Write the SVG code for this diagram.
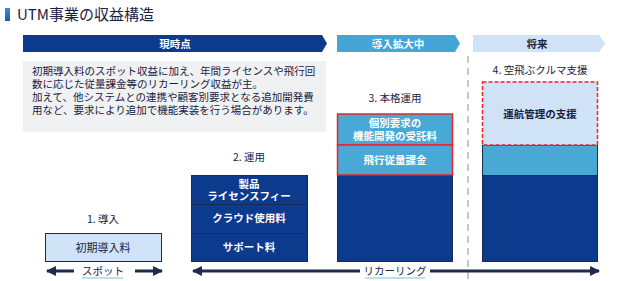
<svg xmlns="http://www.w3.org/2000/svg" width="624" height="281" viewBox="0 0 624 281">
<defs>
<style>
text{font-family:"Noto Sans CJK JP","Noto Sans",sans-serif}
.lbl{font-size:10.5px;fill:#1b2240;text-anchor:middle}
.w{font-size:10.5px;fill:#fff;font-weight:bold;text-anchor:middle}
.dk{fill:#0c3a8c;stroke:#1b2a4d;stroke-width:1}
.md{fill:#48a8d6}
.lt{fill:#cfe2f6}
.ar{stroke:#1b2a4d;stroke-width:3;fill:none}
</style>
<marker id="ah" viewBox="0 0 10 10" refX="9" refY="5" markerWidth="3.3" markerHeight="3.3" orient="auto-start-reverse" markerUnits="strokeWidth">
<path d="M0,0L10,5L0,10z" fill="#1b2a4d"/>
</marker>
<linearGradient id="tg" x1="0" y1="0" x2="0" y2="1"><stop offset="0" stop-color="#3c8fd8"/><stop offset="1" stop-color="#1a5aa8"/></linearGradient>
</defs>
<rect width="624" height="281" fill="#fff"/>
<g id="title">
<rect x="5" y="8" width="5" height="13" fill="url(#tg)"/>
<text x="17" y="20" font-size="15" fill="#1b2240">UTM事業の収益構造</text>
</g>
<g id="phase-now">
<path d="M23,35H322L327,43.5L322,52H23z" fill="#0c3a8c"/>
<text x="175" y="47.5" class="w" font-size="10.5">現時点</text>
</g>
<g id="phase-expand">
<path d="M337,35H455L460,43.5L455,52H337z" fill="#45a6d6"/>
<text x="398" y="47.5" class="w">導入拡大中</text>
</g>
<g id="phase-future">
<path d="M473,35H599L605,43.5L599,52H473z" fill="#cfe2f6"/>
<text x="537" y="47.5" font-size="10.5" font-weight="bold" fill="#1b2240" text-anchor="middle">将来</text>
</g>
<line x1="468" y1="56" x2="468" y2="281" stroke="#a0a0a0" stroke-width="1.2" stroke-dasharray="7,5"/>
<g id="desc">
<rect x="23" y="61" width="303" height="71" fill="#f0f1f2"/>
<text font-size="10.5" fill="#1b2240">
<tspan x="32" y="75">初期導入料のスポット収益に加え、年間ライセンスや飛行回</tspan>
<tspan x="32" y="88">数に応じた従量課金等のリカーリング収益が主。</tspan>
<tspan x="32" y="101">加えて、他システムとの連携や顧客別要求となる追加開発費</tspan>
<tspan x="32" y="114">用など、要求により追加で機能実装を行う場合があります。</tspan>
</text>
</g>
<g id="col1">
<text x="103" y="223" class="lbl">1. 導入</text>
<rect x="45.5" y="233.5" width="116" height="28" fill="#cfe2f6" stroke="#1b2a4d" stroke-width="1"/>
<text x="103" y="252" font-size="11" fill="#1b2240" text-anchor="middle">初期導入料</text>
</g>
<g id="col2">
<text x="249" y="161" class="lbl">2. 運用</text>
<rect x="191.5" y="175.5" width="116" height="29" class="dk"/>
<rect x="191.5" y="204.5" width="116" height="29" class="dk"/>
<rect x="191.5" y="233.5" width="116" height="28" class="dk"/>
<text x="249" y="188" class="w">製品</text>
<text x="249" y="200" class="w">ライセンスフィー</text>
<text x="249" y="222" class="w">クラウド使用料</text>
<text x="249" y="251" class="w">サポート料</text>
</g>
<g id="col3">
<text x="395" y="102" class="lbl">3. 本格運用</text>
<rect x="337.5" y="175.5" width="115" height="86" class="dk"/>
<rect x="337.5" y="114" width="115" height="31" class="md" stroke="#e8262c" stroke-width="1.5"/>
<rect x="337.5" y="145" width="115" height="30" class="md" stroke="#e8262c" stroke-width="1.5"/>
<text x="395" y="127" class="w">個別要求の</text>
<text x="395" y="139.5" class="w">機能開発の受託料</text>
<text x="395" y="164" class="w">飛行従量課金</text>
</g>
<g id="col4">
<text x="540" y="74" class="lbl">4. 空飛ぶクルマ支援</text>
<rect x="482.5" y="175.5" width="115" height="86" class="dk"/>
<rect x="482.5" y="145" width="115" height="30.5" class="md" stroke="#1b2a4d" stroke-width="1"/>
<rect x="482.5" y="82" width="115" height="63" class="lt" stroke="#e8262c" stroke-width="1.5" stroke-dasharray="4,2"/>
<text x="540" y="118" font-size="10.5" font-weight="bold" fill="#1b2240" text-anchor="middle">運航管理の支援</text>
</g>
<g id="connectors">
<line x1="74" y1="271" x2="47" y2="271" class="ar" marker-end="url(#ah)"/>
<line x1="135" y1="271" x2="162" y2="271" class="ar" marker-end="url(#ah)"/>
<line x1="360" y1="271" x2="193" y2="271" class="ar" marker-end="url(#ah)"/>
<line x1="430" y1="271" x2="599" y2="271" class="ar" marker-end="url(#ah)"/>
</g>
<g id="axis-labels">
<text x="103" y="275" font-size="10.5" fill="#1b2240" text-anchor="middle">スポット</text>
<line x1="82" y1="278" x2="123" y2="278" stroke="#7cc4d8" stroke-width="1.2"/>
<text x="395" y="275" font-size="10.5" fill="#1b2240" text-anchor="middle">リカーリング</text>
<line x1="365" y1="278" x2="425" y2="278" stroke="#7cc4d8" stroke-width="1.2"/>
</g>
</svg>
